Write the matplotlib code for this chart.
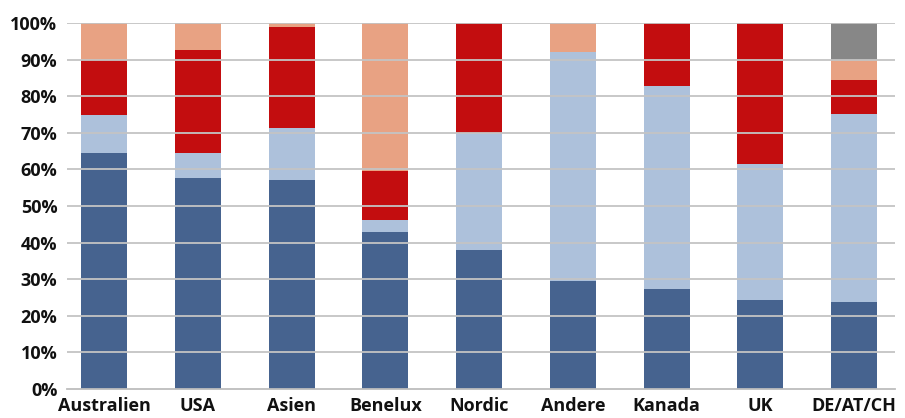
import matplotlib
matplotlib.use("Agg")
import matplotlib.pyplot as plt
import numpy as np
from matplotlib.ticker import FuncFormatter

plt.rcParams['font.family'] = ['Open Sans', 'DejaVu Sans']

regions = ["Australien", "USA", "Asien", "Benelux", "Nordic",
           "Andere", "Kanada", "UK", "DE/AT/CH"]

# Share of each component per region (percent), stacked bottom to top
seg1 = [64.5, 57.7, 57.1, 42.9, 38.0, 29.5, 27.3, 24.3, 23.8]
seg2 = [10.4, 6.8, 14.2, 3.3, 32.0, 62.6, 55.5, 37.2, 51.3]
seg3 = [15.0, 28.1, 27.6, 13.4, 30.0, 0.0, 17.2, 38.5, 9.3]
seg4 = [10.1, 7.4, 1.1, 40.4, 0.0, 7.9, 0.0, 0.0, 5.5]
seg5 = [0.0, 0.0, 0.0, 0.0, 0.0, 0.0, 0.0, 0.0, 10.1]

series = [seg1, seg2, seg3, seg4, seg5]
colors = ["#46638F", "#ADC1DB", "#C30D0F", "#E8A283", "#878787"]

fig = plt.figure(figsize=(9.05, 4.18), dpi=100)
ax = fig.add_axes([67 / 905, (418 - 389) / 418, (895 - 67) / 905, (389 - 23) / 418])

x = np.arange(len(regions))
bottom = np.zeros(len(regions))
for vals, col in zip(series, colors):
    vals = np.array(vals)
    ax.bar(x, vals, bottom=bottom, width=0.49, color=col, zorder=2, linewidth=0)
    bottom += vals

ax.set_ylim(0, 100)
ax.set_xlim(-0.395, len(regions) - 1 + 0.437)
ax.set_yticks(np.arange(0, 101, 10))
ax.yaxis.set_major_formatter(FuncFormatter(lambda v, p: f"{int(v)}%"))
ax.set_xticks(x)
ax.set_xticklabels(regions)

for v in range(10, 101, 10):
    ax.axhline(v, color="#C4C4C4", lw=1.3, zorder=3)

for s in ["top", "right", "left"]:
    ax.spines[s].set_visible(False)
ax.spines["bottom"].set_color("#BDBDBD")
ax.spines["bottom"].set_linewidth(1.3)
ax.spines["bottom"].set_zorder(3)

ax.tick_params(axis="both", length=0, labelsize=13, colors="#111111")
ax.tick_params(axis="y", pad=7)
ax.tick_params(axis="x", pad=6)
for lab in ax.get_xticklabels() + ax.get_yticklabels():
    lab.set_fontweight("bold")

fig.savefig("out.png", dpi=100)
